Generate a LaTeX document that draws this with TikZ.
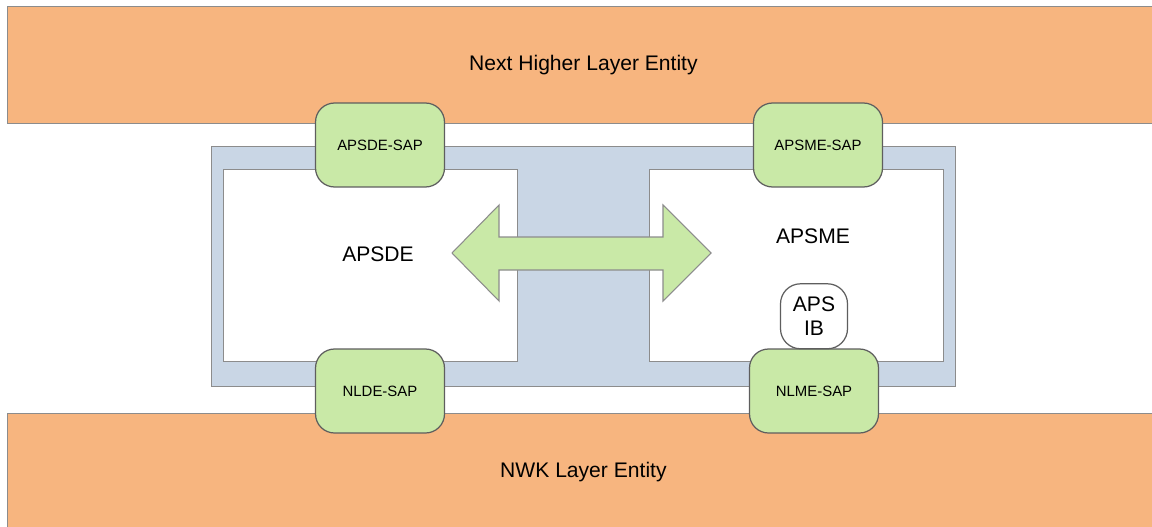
\documentclass[tikz,border=0pt]{standalone}
\usepackage{fontspec}
\setmainfont{Liberation Sans}
\usepackage{xcolor}
\usepackage{tikz}
\usetikzlibrary{positioning}

\definecolor{layerorange}{HTML}{F7B57F}
\definecolor{sapgreen}{HTML}{C9E9A7}
\definecolor{apsblue}{HTML}{C9D6E5}
\definecolor{edgegray}{HTML}{8C8C8C}
\definecolor{sapedge}{HTML}{5E5E5E}

\begin{document}
\begin{tikzpicture}[
    x=0.02cm,y=-0.02cm,
    layer/.style={rectangle,draw=edgegray,fill=layerorange,line width=0.6pt,minimum width=23.2cm,minimum height=2.34cm,anchor=north west,font=\fontsize{12}{14}\selectfont},
    frame/.style={rectangle,draw=edgegray,line width=0.6pt,anchor=north west,inner sep=0pt},
    sap/.style={rectangle,draw=sapedge,fill=sapgreen,line width=0.7pt,rounded corners=0.38cm,minimum width=2.58cm,minimum height=1.68cm,align=center,font=\fontsize{8.5}{10}\selectfont},
    ib/.style={rectangle,draw=sapedge,fill=white,line width=0.7pt,rounded corners=0.4cm,minimum width=1.34cm,minimum height=1.3cm,align=center,inner sep=0pt,font=\fontsize{12}{14}\selectfont},
    title/.style={font=\fontsize{12}{14}\selectfont}
]
\useasboundingbox (0,0) rectangle (1152,527);
\clip (0,0) rectangle (1152,527);

% layer entities
\node[layer] (nhle) at (7,6) {\hspace*{-0.16cm}Next Higher Layer Entity};
\node[layer] (nwk) at (7,413) {\hspace*{-0.16cm}NWK Layer Entity};

% APS frame and the two sub-entities
\node[frame,fill=apsblue,minimum width=14.88cm,minimum height=4.8cm] (aps) at (211,146) {};
\node[frame,fill=white,minimum width=5.88cm,minimum height=3.84cm] (apsdebox) at (223,169) {};
\node[frame,fill=white,minimum width=5.88cm,minimum height=3.84cm] (apsmebox) at (649,169) {};

\node[title] (apsde) at (378,254) {APSDE};
\node[title] (apsme) at (813,236) {APSME};

% data exchange between APSDE and APSME
\draw[draw=edgegray,fill=sapgreen,line width=0.6pt]
    (452,253) -- (499,205) -- (499,237) -- (663,237) -- (663,205) -- (711,253)
    -- (663,301) -- (663,270) -- (499,270) -- (499,301) -- cycle;

% service access points
\node[sap] (apsdesap) at (380,145) {APSDE-SAP};
\node[sap] (apsmesap) at (818,145) {APSME-SAP};
\node[sap] (nldesap) at (380,391) {NLDE-SAP};
\node[sap] (nlmesap) at (814,391) {NLME-SAP};
\node[ib,above=-0.02cm of nlmesap] (apsib) {APS\\IB};
\end{tikzpicture}
\end{document}
